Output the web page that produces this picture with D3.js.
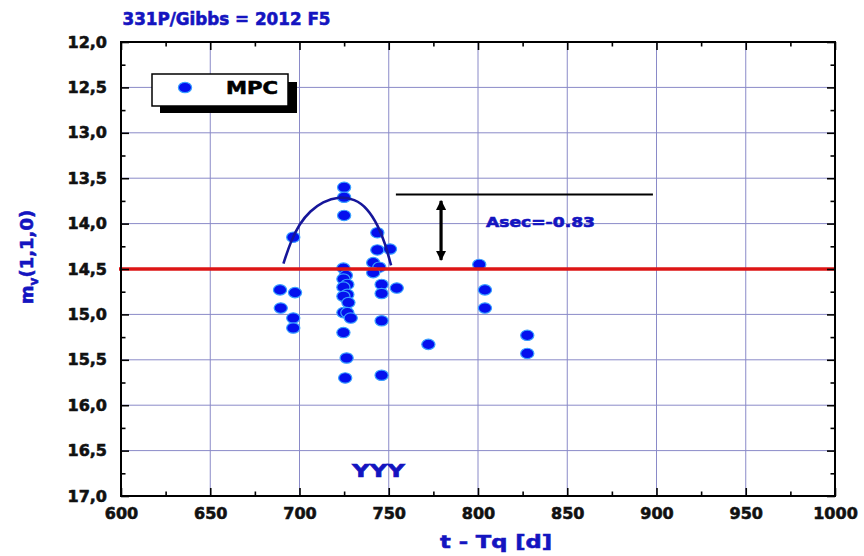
<!DOCTYPE html>
<html>
<head>
<meta charset="utf-8">
<script src="https://cdn.jsdelivr.net/npm/d3@7"></script>
<style>
  html, body { margin: 0; padding: 0; background: #ffffff; }
  svg { display: block; }
  text { font-family: "DejaVu Sans", Arial, sans-serif; font-weight: bold; }
  .heavy { stroke-width: 0.6px; paint-order: stroke; }
</style>
</head>
<body>
<svg id="chart" width="864" height="556"></svg>
<script>
// Observations of 331P/Gibbs: days after perihelion vs reduced magnitude
const tq = [689.1, 697.5, 689.5, 696.5, 696.5, 696.5,
            725.0, 725.0, 725.0, 724.6, 726.0, 724.6, 726.8, 724.6, 726.8, 724.6,
            727.4, 724.6, 726.8, 728.7, 724.6, 726.4, 725.6,
            743.6, 743.6, 750.7, 741.3, 744.7, 741.3, 746.0, 746.0, 754.5, 746.0, 746.0,
            772.2, 800.7, 803.9, 803.9, 827.6, 827.6];
const mag = [14.73, 14.76, 14.93, 15.04, 15.15, 14.15,
             13.60, 13.71, 13.91, 14.49, 14.57, 14.61, 14.67, 14.70, 14.78, 14.80,
             14.87, 14.98, 14.98, 15.04, 15.20, 15.48, 15.70,
             14.10, 14.29, 14.28, 14.43, 14.48, 14.54, 14.67, 14.77, 14.71, 15.07, 15.67,
             15.33, 14.45, 14.73, 14.93, 15.23, 15.43];

// Envelope curve through the brightest points
const envT = [691, 695, 700, 706, 713, 722, 731, 738, 744, 748, 751.3];
const envM = [14.44, 14.20, 14.00, 13.86, 13.76, 13.70, 13.73, 13.83, 14.02, 14.22, 14.46];

// Reference level and secular amplitude bracket
const baseLevel = 14.5;
const peakLevelT = [754, 898];
const peakLevelM = 13.68;
const arrowT = 779.3;
const arrowM = [13.75, 14.40];
const asecLabel = "Asec=-0.83";

const xTicks = [600, 650, 700, 750, 800, 850, 900, 950, 1000];
const xTickLabels = ["600", "650", "700", "750", "800", "850", "900", "950", "1000"];
const yTicks = [12.0, 12.5, 13.0, 13.5, 14.0, 14.5, 15.0, 15.5, 16.0, 16.5, 17.0];
const yTickLabels = ["12,0", "12,5", "13,0", "13,5", "14,0", "14,5", "15,0", "15,5", "16,0", "16,5", "17,0"];

const svg = d3.select("#chart");
const L = 121, R = 835, T = 42, B = 496;
const x = d3.scaleLinear().domain([600, 1000]).range([L, R]);
const y = d3.scaleLinear().domain([12, 17]).range([T, B]);

const blue = "#1414c0";

// grid
const grid = svg.append("g");
grid.selectAll("line.gx").data(xTicks).join("line")
  .attr("x1", d => x(d)).attr("x2", d => x(d)).attr("y1", T).attr("y2", B)
  .attr("stroke", "#8a8ac8").attr("stroke-width", 1);
grid.selectAll("line.gy").data(yTicks).join("line")
  .attr("x1", L).attr("x2", R).attr("y1", d => y(d)).attr("y2", d => y(d))
  .attr("stroke", "#8a8ac8").attr("stroke-width", 1);

// data points
const pts = tq.map((t, i) => ({ t, m: mag[i] }));
svg.append("g").selectAll("ellipse").data(pts).join("ellipse")
  .attr("cx", d => x(d.t)).attr("cy", d => y(d.m))
  .attr("rx", 6.6).attr("ry", 5.2)
  .attr("fill", "#0410ee").attr("stroke", "#3aa0ff").attr("stroke-width", 1.2);

// envelope curve
const env = envT.map((t, i) => [t, envM[i]]);
svg.append("path")
  .attr("d", d3.line().x(d => x(d[0])).y(d => y(d[1])).curve(d3.curveBasis)(env))
  .attr("fill", "none").attr("stroke", "#16169a").attr("stroke-width", 2.6);

// base level line
svg.append("line")
  .attr("x1", L - 2).attr("x2", R).attr("y1", y(baseLevel)).attr("y2", y(baseLevel))
  .attr("stroke", "#dd1515").attr("stroke-width", 3.6);

// peak level line
svg.append("line")
  .attr("x1", x(peakLevelT[0])).attr("x2", x(peakLevelT[1]))
  .attr("y1", y(peakLevelM)).attr("y2", y(peakLevelM))
  .attr("stroke", "#000").attr("stroke-width", 2);

// double arrow
const defs = svg.append("defs");
defs.append("marker").attr("id", "ah").attr("viewBox", "0 0 10 10")
  .attr("refX", 9).attr("refY", 5).attr("markerWidth", 3.2).attr("markerHeight", 3.2)
  .attr("orient", "auto-start-reverse")
  .append("path").attr("d", "M0,0 L10,5 L0,10 Z").attr("fill", "#000");
svg.append("line")
  .attr("x1", x(arrowT)).attr("x2", x(arrowT))
  .attr("y1", y(arrowM[0])).attr("y2", y(arrowM[1]))
  .attr("stroke", "#000").attr("stroke-width", 3.2)
  .attr("marker-start", "url(#ah)").attr("marker-end", "url(#ah)");

svg.append("text").attr("class", "heavy").attr("x", 486).attr("y", 227)
  .attr("font-size", 14).attr("fill", blue).attr("stroke", blue)
  .attr("textLength", 109).attr("lengthAdjust", "spacingAndGlyphs")
  .text(asecLabel);

// axes: inward ticks on all four sides
function styleAxis(g) {
  g.select(".domain").remove();
  g.selectAll(".tick line").attr("stroke", "#000").attr("stroke-width", 1.6);
}
function styleLabels(g) {
  g.selectAll("text").attr("font-size", 16).attr("fill", "#111").attr("stroke", "#111")
    .attr("class", "heavy")
    .attr("font-family", "DejaVu Sans").attr("font-weight", "bold");
}
const minorX = d3.range(625, 1000, 50);
const minorY = d3.range(12.25, 17, 0.5);

svg.append("g").attr("transform", `translate(0,${B})`)
  .call(d3.axisBottom(x).tickValues(xTicks).tickSize(-8).tickPadding(12)
    .tickFormat((d, i) => xTickLabels[i]))
  .call(styleAxis).call(styleLabels);
svg.append("g").attr("transform", `translate(0,${B})`)
  .call(d3.axisBottom(x).tickValues(minorX).tickSize(-4.5).tickFormat(""))
  .call(styleAxis);
svg.append("g").attr("transform", `translate(0,${T})`)
  .call(d3.axisTop(x).tickValues(xTicks).tickSize(-8).tickFormat(""))
  .call(styleAxis);
svg.append("g").attr("transform", `translate(0,${T})`)
  .call(d3.axisTop(x).tickValues(minorX).tickSize(-4.5).tickFormat(""))
  .call(styleAxis);

svg.append("g").attr("transform", `translate(${L},0)`)
  .call(d3.axisLeft(y).tickValues(yTicks).tickSize(-8).tickPadding(14)
    .tickFormat((d, i) => yTickLabels[i]))
  .call(styleAxis).call(styleLabels);
svg.append("g").attr("transform", `translate(${L},0)`)
  .call(d3.axisLeft(y).tickValues(minorY).tickSize(-4.5).tickFormat(""))
  .call(styleAxis);
svg.append("g").attr("transform", `translate(${R},0)`)
  .call(d3.axisRight(y).tickValues(yTicks).tickSize(-8).tickFormat(""))
  .call(styleAxis);
svg.append("g").attr("transform", `translate(${R},0)`)
  .call(d3.axisRight(y).tickValues(minorY).tickSize(-4.5).tickFormat(""))
  .call(styleAxis);

// frame
svg.append("rect").attr("x", L).attr("y", T).attr("width", R - L).attr("height", B - T)
  .attr("fill", "none").attr("stroke", "#000").attr("stroke-width", 2);

// legend with drop shadow
svg.append("rect").attr("x", 160).attr("y", 82).attr("width", 137).attr("height", 31).attr("fill", "#000");
svg.append("rect").attr("x", 152).attr("y", 74).attr("width", 136).attr("height", 32)
  .attr("fill", "#fff").attr("stroke", "#000").attr("stroke-width", 1.5);
svg.append("ellipse").attr("cx", 185).attr("cy", 87.5).attr("rx", 6.6).attr("ry", 5.2)
  .attr("fill", "#0410ee").attr("stroke", "#3aa0ff").attr("stroke-width", 1.2);
svg.append("text").attr("class", "heavy").attr("x", 226).attr("y", 93.5)
  .attr("font-size", 17).attr("fill", "#000").attr("stroke", "#000")
  .attr("textLength", 52).attr("lengthAdjust", "spacingAndGlyphs").text("MPC");

// titles
svg.append("text").attr("class", "heavy").attr("x", 122.5).attr("y", 25)
  .attr("font-size", 17).attr("fill", blue).attr("stroke", blue)
  .attr("textLength", 208).attr("lengthAdjust", "spacingAndGlyphs")
  .text("331P/Gibbs = 2012 F5");

svg.append("text").attr("class", "heavy").attr("x", 440).attr("y", 548)
  .attr("font-size", 18).attr("fill", blue).attr("stroke", blue)
  .attr("textLength", 112).attr("lengthAdjust", "spacingAndGlyphs")
  .text("t - Tq [d]");

svg.append("text").attr("class", "heavy").attr("x", 352).attr("y", 477)
  .attr("font-size", 17).attr("fill", blue).attr("stroke", blue)
  .attr("textLength", 53).attr("lengthAdjust", "spacingAndGlyphs")
  .text("YYY");

const yl = svg.append("text").attr("class", "heavy")
  .attr("transform", "translate(33,257) rotate(-90)")
  .attr("text-anchor", "middle").attr("font-size", 18).attr("fill", blue).attr("stroke", blue);
yl.append("tspan").text("m");
yl.append("tspan").attr("font-size", 12).attr("dy", 5).text("v");
yl.append("tspan").attr("dy", -5).text("(1,1,0)");
</script>
</body>
</html>
